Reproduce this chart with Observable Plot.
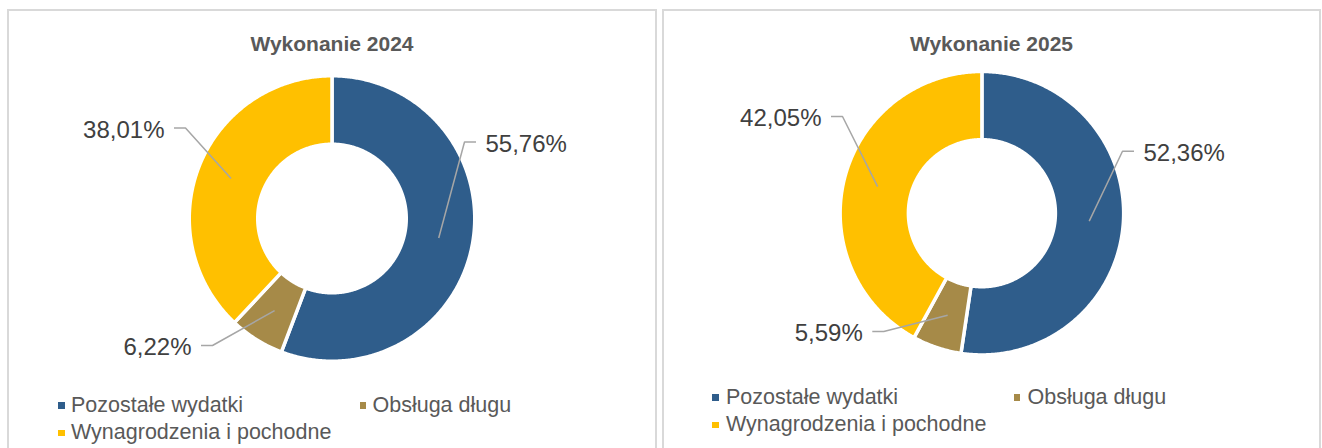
<!DOCTYPE html>
<html>
<head>
<meta charset="utf-8">
<script src="https://cdn.jsdelivr.net/npm/d3@7"></script>
<script src="https://cdn.jsdelivr.net/npm/@observablehq/plot@0.6"></script>
<style>
  html, body { margin: 0; padding: 0; background: #fff; }
  #page { position: relative; width: 1322px; height: 448px; overflow: hidden; font-family: "Liberation Sans", Arial, sans-serif; }
  .panel { position: absolute; box-sizing: border-box; border: 2px solid #d9d9d9; background: #fff; }
  .title { position: absolute; text-align: center; font-weight: bold; font-size: 21px; line-height: 21px; color: #595959; white-space: nowrap; }
  .lg-text { position: absolute; font-size: 21.5px; line-height: 21.5px; color: #595959; white-space: nowrap; }
  .lg-sw { position: absolute; width: 6.5px; height: 6.5px; }
  .chart { position: absolute; top: 0; }
</style>
</head>
<body>
<div id="page"></div>
<script>
// ---- data ----
const categories = ["Pozostałe wydatki", "Obsługa długu", "Wynagrodzenia i pochodne"];
const colors = ["#2f5d8b", "#a68a48", "#ffc000"];
const titles = ["Wykonanie 2024", "Wykonanie 2025"];
const values2024 = [55.76, 6.22, 38.01];
const values2025 = [52.36, 5.59, 42.05];

// ---- layout ----
const panels = [
  { values: values2024, title: titles[0], left: 7, width: 650, cx: 331.5, cy: 218, R: 142.75, r: 74.25,
    elbows: [[132.5, -76.5, "right"], [-119.5, 127, "left"], [-146.5, -90.5, "left"]],
    legendX: 58, legendY: 413, textOffset: 13 },
  { values: values2025, title: titles[1], left: 662, width: 659, cx: 981.4, cy: 212.7, R: 141.75, r: 73.5,
    elbows: [[140.6, -62, "right"], [-98.1, 118.3, "left"], [-139.4, -96.7, "left"]],
    legendX: 712, legendY: 405, textOffset: 14 }
];
const H = 448;
const fmt = v => d3.format(".2f")(v).replace(".", ",") + "%";

const page = document.getElementById("page");

panels.forEach((p, pi) => {
  const panel = document.createElement("div");
  panel.className = "panel";
  panel.style.left = p.left + "px";
  panel.style.top = "9px";
  panel.style.width = p.width + "px";
  panel.style.height = "470px";
  page.appendChild(panel);

  const arcs = d3.pie().sort(null).value(d => d)(p.values);

  // slice polygons
  const slicePts = [];
  arcs.forEach((a, i) => {
    const n = Math.max(2, Math.ceil((a.endAngle - a.startAngle) / (Math.PI / 360)));
    for (let k = 0; k <= n; k++) {
      const t = a.startAngle + (a.endAngle - a.startAngle) * k / n;
      slicePts.push({ category: categories[i], x: p.R * Math.sin(t), y: -p.R * Math.cos(t) });
    }
    for (let k = n; k >= 0; k--) {
      const t = a.startAngle + (a.endAngle - a.startAngle) * k / n;
      slicePts.push({ category: categories[i], x: p.r * Math.sin(t), y: -p.r * Math.cos(t) });
    }
  });

  // leader lines and labels
  const seg = 11.5, gap = 9.5, rc = (p.R + p.r) / 2;
  const leaderPts = [];
  const labelPts = [];
  arcs.forEach((a, i) => {
    const mid = (a.startAngle + a.endAngle) / 2;
    const [ex, ey, side] = p.elbows[i];
    const s = side === "right" ? 1 : -1;
    leaderPts.push({ id: i, x: ex + s * seg, y: ey });
    leaderPts.push({ id: i, x: ex, y: ey });
    leaderPts.push({ id: i, x: rc * Math.sin(mid), y: -rc * Math.cos(mid) });
    labelPts.push({ x: ex + s * (seg + gap), y: ey + 9.5, text: fmt(p.values[i]), side });
  });

  const textOpts = { x: "x", y: "y", text: "text", lineAnchor: "bottom", fontSize: 24, fill: "#404040" };
  const chart = Plot.plot({
    width: p.width, height: H, margin: 0,
    x: { domain: [p.left - p.cx, p.left + p.width - p.cx], range: [0, p.width], axis: null },
    y: { domain: [-p.cy, H - p.cy], range: [0, H], axis: null },
    color: { domain: categories, range: colors },
    style: { background: "none", fontFamily: "Liberation Sans, Arial, sans-serif", overflow: "visible", maxWidth: "none" },
    marks: [
      Plot.line(slicePts, { x: "x", y: "y", z: "category", fill: "category", stroke: "white", strokeWidth: 3.5, curve: "linear-closed", strokeLinejoin: "round" }),
      Plot.line(leaderPts, { x: "x", y: "y", z: "id", stroke: "#a6a6a6", strokeWidth: 1.5, strokeLinejoin: "miter", strokeLinecap: "butt" }),
      Plot.text(labelPts.filter(d => d.side === "right"), { ...textOpts, textAnchor: "start" }),
      Plot.text(labelPts.filter(d => d.side === "left"), { ...textOpts, textAnchor: "end" })
    ]
  });
  chart.classList.add("chart");
  chart.style.left = p.left + "px";
  page.appendChild(chart);

  // title
  const title = document.createElement("div");
  title.className = "title";
  title.textContent = p.title;
  title.style.left = p.left + "px";
  title.style.width = p.width + "px";
  title.style.top = (51 - 17.8) + "px";
  page.appendChild(title);

  // legend
  categories.forEach((c, i) => {
    const col = i % 2, row = Math.floor(i / 2);
    const x = p.legendX + col * 301.5;
    const base = p.legendY + row * 27.5;
    const sw = document.createElement("div");
    sw.className = "lg-sw";
    sw.style.background = colors[i];
    sw.style.left = x + "px";
    sw.style.top = (base - 11) + "px";
    page.appendChild(sw);
    const t = document.createElement("div");
    t.className = "lg-text";
    t.textContent = c;
    t.style.left = (x + p.textOffset) + "px";
    t.style.top = (base - 18.2) + "px";
    page.appendChild(t);
  });
});
</script>
</body>
</html>
